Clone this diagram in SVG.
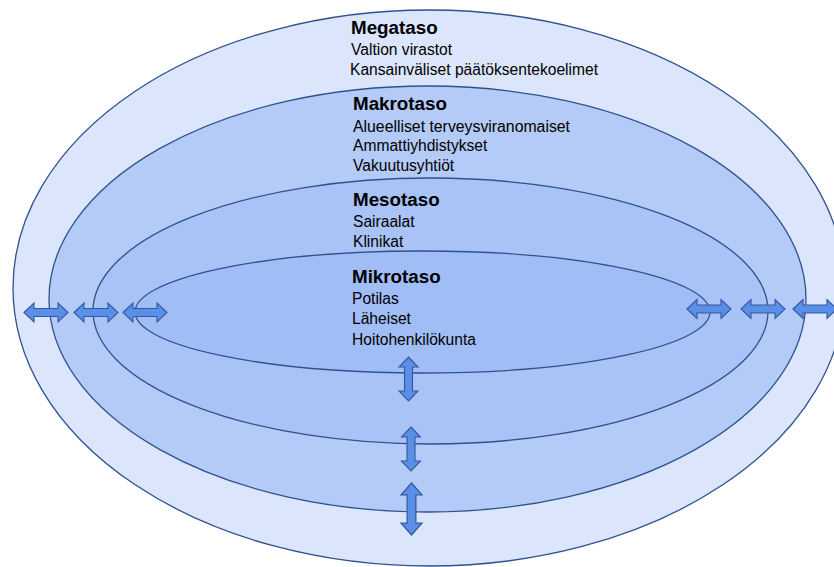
<svg xmlns="http://www.w3.org/2000/svg" width="834" height="567" viewBox="0 0 834 567">
  <style>
    .ring { stroke: #2f528f; stroke-width: 1.3; }
    .title { font-family: "Liberation Sans", Arial, sans-serif; font-weight: bold; font-size: 18.8px; fill: #000; }
    .item { font-family: "Liberation Sans", Arial, sans-serif; font-size: 15.6px; fill: #000; }
    .arrow { fill: #5a8fe8; stroke: #34589c; stroke-width: 1.1; stroke-linejoin: miter; }
  </style>
  <defs>
    <!-- double-headed arrow, horizontal, centred on the origin -->
    <path id="dbl" d="M-22,0 L-12,-9.5 L-12,-4 L12,-4 L12,-9.5 L22,0 L12,9.5 L12,4 L-12,4 L-12,9.5 Z"/>
  </defs>

  <rect width="834" height="567" fill="#ffffff"/>

  <g id="megataso">
    <ellipse class="ring" cx="429" cy="288" rx="416" ry="278" fill="#dbe6fc"/>
    <text class="title" x="351" y="34">Megataso</text>
    <text class="item" x="351" y="55">Valtion virastot</text>
    <text class="item" x="350" y="75" textLength="248" lengthAdjust="spacingAndGlyphs">Kansainväliset päätöksentekoelimet</text>
  </g>

  <g id="makrotaso">
    <ellipse class="ring" cx="427.5" cy="299" rx="378.5" ry="213" fill="#b4caf7"/>
    <text class="title" x="353" y="110">Makrotaso</text>
    <text class="item" x="353" y="132" textLength="217" lengthAdjust="spacingAndGlyphs">Alueelliset terveysviranomaiset</text>
    <text class="item" x="353" y="151">Ammattiyhdistykset</text>
    <text class="item" x="353" y="171">Vakuutusyhtiöt</text>
  </g>

  <g id="mesotaso">
    <ellipse class="ring" cx="430.5" cy="311" rx="337.5" ry="133" fill="#a9c3f7"/>
    <text class="title" x="353" y="206">Mesotaso</text>
    <text class="item" x="353" y="227">Sairaalat</text>
    <text class="item" x="353" y="247">Klinikat</text>
  </g>

  <g id="mikrotaso">
    <ellipse class="ring" cx="422.5" cy="312" rx="287.5" ry="61" fill="#a1bdf6"/>
    <text class="title" x="352" y="283">Mikrotaso</text>
    <text class="item" x="352" y="304">Potilas</text>
    <text class="item" x="352" y="324">Läheiset</text>
    <text class="item" x="352" y="345">Hoitohenkilökunta</text>
  </g>

  <g id="connectors">
    <!-- left side -->
    <use href="#dbl" class="arrow" transform="translate(46,312.5)"/>
    <use href="#dbl" class="arrow" transform="translate(96,312.5)"/>
    <use href="#dbl" class="arrow" transform="translate(145,312.5)"/>
    <!-- right side -->
    <use href="#dbl" class="arrow" transform="translate(709,309)"/>
    <use href="#dbl" class="arrow" transform="translate(763,309)"/>
    <use href="#dbl" class="arrow" transform="translate(815,309)"/>
    <!-- bottom -->
    <use href="#dbl" class="arrow" transform="translate(408.5,379) rotate(90)"/>
    <use href="#dbl" class="arrow" transform="translate(411,449) rotate(90)"/>
    <use href="#dbl" class="arrow" transform="translate(411.5,509) rotate(90) scale(1.18,1.1)"/>
  </g>
</svg>
